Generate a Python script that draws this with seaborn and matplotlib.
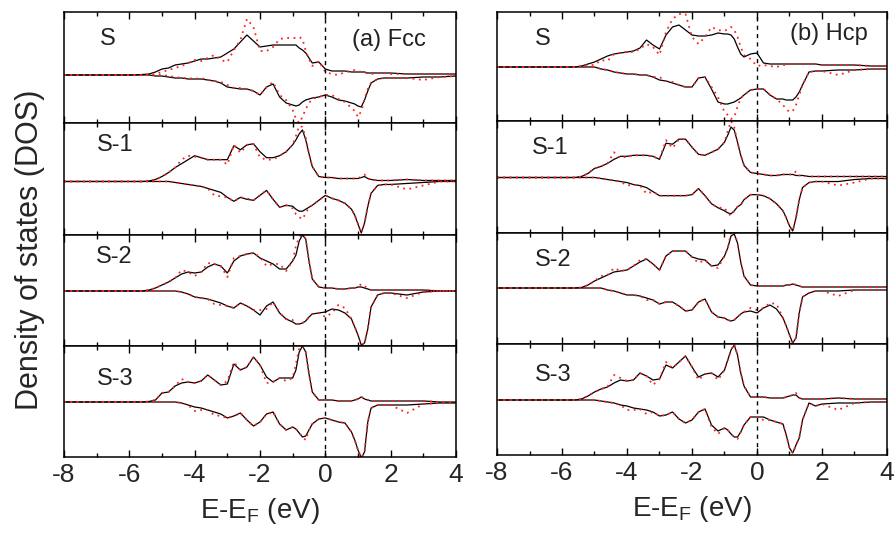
import matplotlib
matplotlib.use("Agg")
import matplotlib.pyplot as plt
from matplotlib.ticker import MultipleLocator
import seaborn as sns

# energy grid (eV, relative to E_F)
E = [-8.0, -7.0, -6.0, -5.6, -5.4, -5.2, -5.0, -4.8, -4.6, -4.4, -4.2, -4.0,
     -3.8, -3.6, -3.4, -3.2, -3.0, -2.8, -2.6, -2.4, -2.2, -2.0, -1.8, -1.6, -1.4, -1.2, -1.0,
     -0.9, -0.8, -0.7, -0.6, -0.5, -0.4, -0.2, 0.0, 0.2, 0.4, 0.6, 0.8,
     0.9, 1.0, 1.1, 1.2, 1.3, 1.4, 1.6, 1.8, 2.0, 2.5, 3.0, 3.5, 4.0]

# ---- (a) Fcc ----  black = solid curve, red = dotted curve (arb. units)
fcc_S_up = [0, 0, 0, 0.5, 1, 3, 6, 7, 10, 11, 12, 14,
            16, 16, 17, 18, 22, 26, 33, 40, 34, 28, 29, 30, 30, 30, 30,
            30, 27, 25, 22, 17, 12, 13, 6, 4, 4, 4, 3,
            3, 3, 3, 3, 2, 2, 2, 2, 2, 1, 1, 1, 1]
fcc_S_dn = [0, 0, 0, 0, 0, -1, -1, -2, -3, -3, -4, -4,
            -4, -5, -6, -8, -12, -13, -14, -14, -16, -20, -12, -9, -22, -28, -30,
            -31, -30, -27, -25, -24, -23, -22, -20, -22, -25, -26, -28,
            -29, -31, -32, -25, -16, -8, -4, -3, -3, -3, -2, -2, -1]
fcc_S_up_r = [0, 0, 0, 0, 0, 1, 3, 5, 7, 9, 12, 15,
              14, 17, 20, 15, 13, 25, 35, 56, 48, 24, 24, 28, 36, 37, 37,
              37, 38, 36, 24, 16, 9, 14, 3, 1, 0, 3, 4,
              5, 4, 3, 2, 2, 1, 2, 2, 1, 1, 1, 1, 0]
fcc_S_dn_r = [0, 0, 0, 0, 0, 0, 0, -1, -2, -3, -3, -4,
              -3, -5, -6, -7, -10, -13, -13, -14, -16, -20, -12, -7, -20, -25, -35,
              -44, -48, -42, -34, -28, -24, -22, -20, -20, -24, -27, -33,
              -36, -42, -36, -24, -14, -8, -4, -3, -3, -3, -5, -2, -1]

fcc_S1_up = [0, 0, 0, 0, 0.5, 2, 5, 9, 14, 18, 22, 26,
             24, 22, 22, 22, 22, 36, 32, 37, 38, 30, 24, 24, 26, 30, 37,
             42, 48, 52, 42, 28, 15, 5, 4, 4, 3, 3, 3,
             3, 3, 4, 5, 3, 2, 1, 1, 1, 2, 1, 1, 1]
fcc_S1_dn = [0, 0, 0, 0, 0, 0, 0, 0, -1, -2, -3, -4,
             -5, -7, -9, -11, -16, -20, -16, -18, -19, -14, -9, -18, -26, -24, -25,
             -28, -30, -30, -28, -26, -24, -19, -14, -17, -19, -22, -28,
             -34, -43, -52, -42, -25, -12, -4, -3, -3, -2, -1, 0, 0]
fcc_S1_up_r = [0, 0, 0, 0, 0.5, 2, 5, 9, 14, 22, 26, 25,
               24, 22, 22, 22, 17, 37, 29, 37, 38, 24, 22, 22, 26, 30, 37,
               46, 56, 55, 44, 28, 15, 5, 4, 4, 3, 3, 3,
               3, 3, 5, 7, 3, 2, 1, 1, 1, 2, 1, 1, 1]
fcc_S1_dn_r = [0, 0, 0, 0, 0, 0, 0, 0, -1, -2, -3, -4,
               -5, -7, -14, -15, -16, -20, -16, -17, -19, -14, -9, -18, -26, -24, -27,
               -33, -36, -38, -32, -26, -24, -19, -14, -17, -19, -22, -28,
               -34, -43, -52, -42, -25, -12, -4, -3, -3, -8, -4, 0, 0]

fcc_S2_up = [0, 0, 0, 0, 1, 3, 6, 9, 13, 17, 19, 18,
             19, 24, 27, 25, 18, 30, 35, 37, 38, 33, 30, 27, 22, 22, 30,
             36, 50, 56, 52, 30, 12, 4, 3, 3, 2, 2, 3,
             3, 4, 4, 3, 2, 1, 1, 1, 1, 1, 1, 0, 0]
fcc_S2_dn = [0, 0, 0, 0, 0, 0, 0, 0, 0, -1, -3, -6,
             -7, -8, -10, -12, -15, -17, -12, -15, -19, -24, -15, -11, -22, -28, -31,
             -33, -33, -32, -30, -26, -23, -22, -21, -18, -19, -22, -28,
             -36, -44, -54, -52, -38, -16, -4, -2, -2, -4, -1, 0, 0]
fcc_S2_up_r = [0, 0, 0, 0, 1, 3, 6, 9, 13, 21, 19, 15,
               19, 28, 27, 25, 14, 33, 35, 37, 38, 34, 25, 27, 27, 20, 30,
               45, 54, 56, 52, 30, 12, 4, 3, 3, 2, 2, 3,
               3, 4, 7, 5, 2, 1, 1, 1, 1, 1, 1, 0, 0]
fcc_S2_dn_r = [0, 0, 0, 0, 0, 0, 0, 0, 0, -1, -3, -6,
               -7, -8, -13, -14, -15, -17, -12, -15, -19, -19, -18, -11, -22, -28, -29,
               -33, -33, -32, -30, -26, -23, -22, -26, -22, -14, -17, -28,
               -36, -44, -54, -52, -38, -16, -4, -2, -2, -7, -1, 0, 0]

fcc_S3_up = [0, 0, 0, 0, 0.5, 2, 9, 10, 16, 19, 20, 19,
             21, 27, 22, 17, 18, 38, 32, 35, 45, 37, 25, 20, 24, 24, 24,
             32, 50, 56, 50, 28, 10, 2, 2, 2, 1, 1, 1,
             2, 3, 5, 3, 2, 1, 1, 1, 1, 1, 1, 0, 0]
fcc_S3_dn = [0, 0, 0, 0, 0, 0, 0, 0, 0, -1, -3, -5,
             -6, -8, -10, -12, -16, -14, -11, -18, -24, -20, -12, -10, -22, -28, -25,
             -27, -31, -35, -34, -28, -22, -17, -16, -18, -20, -21, -30,
             -38, -48, -56, -50, -20, -6, -3, -3, -3, -3, -2, -1, -1]
fcc_S3_up_r = [0, 0, 0, 0, 0.5, 2, 9, 10, 16, 23, 20, 19,
               21, 27, 22, 17, 21, 40, 32, 35, 45, 37, 19, 20, 24, 21, 24,
               38, 54, 56, 50, 28, 10, 2, 2, 2, 1, 1, 1,
               2, 3, 5, 4, 2, 1, 1, 1, 1, 1, 1, 0, 0]
fcc_S3_dn_r = [0, 0, 0, 0, 0, 0, 0, 0, 0, -1, -3, -9,
               -8, -8, -13, -14, -16, -14, -11, -18, -24, -20, -12, -10, -22, -28, -25,
               -27, -31, -35, -38, -28, -22, -17, -16, -18, -20, -21, -30,
               -38, -48, -56, -50, -20, -6, -3, -3, -3, -11, -2, -1, -1]

# ---- (b) Hcp ----
hcp_S_up = [0, 0, 0, 0, 1, 3, 5, 8, 11, 13, 14, 15,
            16, 19, 27, 22, 18, 32, 40, 42, 37, 32, 31, 31, 32, 34, 33,
            33, 32, 28, 20, 13, 10, 13, 14, 4, 3, 3, 3,
            3, 3, 3, 3, 3, 3, 3, 3, 2, 2, 2, 1, 1]
hcp_S_dn = [0, 0, 0, 0, 0, 0, 0, -2, -3, -5, -6, -7,
            -7, -8, -8, -10, -13, -14, -16, -18, -20, -20, -11, -10, -22, -35, -37,
            -37, -36, -35, -33, -31, -28, -23, -22, -22, -28, -32, -32,
            -33, -33, -33, -30, -25, -18, -5, -4, -4, -3, -3, -2, -2]
hcp_S_up_r = [0, 0, 0, 0, 1, 2, 2, 7, 6, 13, 14, 15,
              15, 18, 23, 20, 12, 35, 48, 53, 53, 30, 23, 30, 40, 37, 36,
              38, 40, 37, 30, 20, 12, 8, 1, 2, 1, 0, 2,
              2, 3, 3, 3, 3, 3, 3, 3, 2, 2, 2, 1, 1]
hcp_S_dn_r = [0, 0, 0, 0, 0, 0, 0, -2, -3, -5, -6, -7,
              -7, -8, -8, -10, -10, -14, -15, -18, -20, -20, -11, -10, -20, -30, -45,
              -48, -52, -50, -40, -31, -28, -23, -22, -22, -28, -32, -38,
              -42, -45, -44, -38, -28, -18, -5, -4, -4, -8, -3, -2, -2]

hcp_S1_up = [0, 0, 0, 0, 1, 4, 9, 11, 14, 18, 21, 21,
             22, 22, 22, 21, 18, 34, 33, 38, 38, 30, 23, 22, 25, 28, 35,
             42, 50, 47, 35, 22, 12, 5, 4, 3, 2, 2, 3,
             3, 3, 3, 2, 2, 2, 1, 1, 1, 1, 1, 1, 1]
hcp_S1_dn = [0, 0, 0, 0, 0, 0, 0, -1, -2, -3, -4, -5,
             -7, -8, -10, -14, -18, -18, -18, -18, -18, -17, -11, -18, -26, -30, -33,
             -35, -36, -33, -29, -27, -22, -17, -17, -18, -21, -26, -33,
             -40, -48, -53, -40, -22, -10, -5, -4, -4, -4, -2, -1, -1]
hcp_S1_up_r = [0, 0, 0, 0, 1, 4, 9, 11, 14, 25, 19, 21,
               22, 22, 22, 21, 18, 37, 29, 38, 38, 30, 23, 22, 25, 28, 35,
               46, 56, 50, 35, 22, 12, 5, 4, 3, 2, 2, 3,
               3, 3, 3, 6, 2, 2, 1, 1, 1, 1, 1, 1, 1]
hcp_S1_dn_r = [0, 0, 0, 0, 0, 0, 0, -1, -2, -3, -4, -8,
               -7, -8, -16, -14, -18, -18, -18, -18, -18, -17, -11, -18, -26, -30, -30,
               -35, -38, -33, -29, -27, -22, -17, -17, -18, -21, -26, -33,
               -40, -48, -53, -40, -22, -10, -5, -4, -4, -8, -5, -1, -1]

hcp_S2_up = [0, 0, 0, 0, 0.5, 3, 7, 10, 13, 16, 17, 18,
             22, 26, 29, 24, 18, 32, 37, 37, 37, 31, 29, 28, 22, 23, 32,
             40, 52, 54, 45, 26, 12, 3, 2, 2, 2, 2, 2,
             3, 3, 4, 3, 2, 1, 1, 1, 1, 1, 1, 1, 1]
hcp_S2_dn = [0, 0, 0, 0, 0, 0, 0, 0, -2, -3, -5, -7,
             -7, -8, -10, -12, -16, -14, -14, -18, -23, -22, -14, -11, -24, -29, -30,
             -32, -33, -32, -29, -26, -24, -23, -25, -20, -17, -21, -30,
             -38, -47, -55, -50, -25, -9, -5, -3, -3, -3, -2, -2, -2]
hcp_S2_up_r = [0, 0, 0, 0, 0.5, 3, 7, 12, 13, 20, 17, 18,
               22, 28, 29, 24, 18, 32, 37, 37, 37, 31, 25, 28, 22, 20, 32,
               40, 55, 57, 45, 26, 12, 3, 2, 2, 2, 2, 2,
               3, 3, 5, 3, 2, 1, 1, 1, 1, 1, 1, 1, 1]
hcp_S2_dn_r = [0, 0, 0, 0, 0, 0, 0, 0, -2, -3, -5, -7,
               -7, -8, -12, -12, -16, -14, -14, -18, -23, -22, -14, -11, -24, -29, -30,
               -32, -33, -32, -29, -26, -24, -20, -22, -20, -15, -16, -30,
               -38, -47, -55, -50, -25, -9, -5, -3, -3, -8, -2, -2, -2]

hcp_S3_up = [0, 0, 0, 0, 1, 4, 8, 11, 13, 17, 20, 19,
             20, 27, 24, 20, 21, 35, 32, 38, 44, 33, 23, 26, 27, 23, 30,
             40, 50, 55, 45, 27, 14, 3, 3, 3, 2, 2, 2,
             3, 4, 5, 5, 2, 1, 1, 1, 1, 2, 1, 1, 1]
hcp_S3_dn = [0, 0, 0, 0, 0, 0, 0, -1, -2, -3, -5, -6,
             -8, -9, -10, -12, -16, -15, -12, -19, -23, -20, -12, -9, -25, -31, -28,
             -30, -34, -37, -37, -32, -25, -17, -17, -17, -20, -22, -24,
             -35, -48, -53, -45, -38, -20, -3, -6, -4, -3, -3, -2, -2]
hcp_S3_up_r = [0, 0, 0, 0, 1, 4, 8, 11, 13, 25, 22, 19,
               20, 27, 24, 15, 21, 38, 32, 38, 44, 33, 20, 26, 27, 20, 30,
               40, 50, 56, 45, 27, 14, 3, 3, 3, 2, 2, 2,
               3, 4, 5, 7, 2, 1, 1, 1, 1, 2, 1, 1, 1]
hcp_S3_dn_r = [0, 0, 0, 0, 0, 0, 0, -1, -2, -3, -5, -10,
               -10, -9, -14, -12, -16, -15, -12, -19, -23, -20, -12, -9, -27, -34, -28,
               -30, -34, -37, -39, -32, -25, -17, -17, -20, -20, -22, -24,
               -35, -48, -53, -45, -38, -20, -3, -6, -4, -10, -3, -2, -2]

panel_names = ["S", "S-1", "S-2", "S-3"]
fcc_data = [(fcc_S_up, fcc_S_dn, fcc_S_up_r, fcc_S_dn_r),
            (fcc_S1_up, fcc_S1_dn, fcc_S1_up_r, fcc_S1_dn_r),
            (fcc_S2_up, fcc_S2_dn, fcc_S2_up_r, fcc_S2_dn_r),
            (fcc_S3_up, fcc_S3_dn, fcc_S3_up_r, fcc_S3_dn_r)]
hcp_data = [(hcp_S_up, hcp_S_dn, hcp_S_up_r, hcp_S_dn_r),
            (hcp_S1_up, hcp_S1_dn, hcp_S1_up_r, hcp_S1_dn_r),
            (hcp_S2_up, hcp_S2_dn, hcp_S2_up_r, hcp_S2_dn_r),
            (hcp_S3_up, hcp_S3_dn, hcp_S3_up_r, hcp_S3_dn_r)]

# layout (pixels of the 895x534 figure)
W, H = 895, 534
columns = [
    dict(data=fcc_data, x=(64, 456), rows=[12, 123, 235, 346, 457],
         ylims=[(-48, 63), (-54, 59), (-55, 56), (-55, 56)],
         lab_x=[0.092, 0.084, 0.082, 0.084], lab_y=[0.76, 0.80, 0.80, 0.70],
         title="(a) Fcc", title_xy=(0.735, 0.75)),
    dict(data=hcp_data, x=(497, 887), rows=[12, 121, 233, 344, 455],
         ylims=[(-54, 55), (-55, 56), (-56, 55), (-55, 56)],
         lab_x=[0.097, 0.09, 0.098, 0.098], lab_y=[0.75, 0.755, 0.755, 0.725],
         title="(b) Hcp", title_xy=(0.751, 0.80)),
]

sns.set_style("ticks")
plt.rcParams["font.family"] = ["Liberation Sans", "DejaVu Sans"]
plt.rcParams["mathtext.fontset"] = "custom"
plt.rcParams["mathtext.rm"] = "Liberation Sans"
plt.rcParams["mathtext.it"] = "Liberation Sans"
plt.rcParams["axes.unicode_minus"] = False

fig = plt.figure(figsize=(W / 100, H / 100), dpi=100)

for col in columns:
    x0, x1 = col["x"]
    for i in range(4):
        y0, y1 = col["rows"][i], col["rows"][i + 1]
        ax = fig.add_axes([x0 / W, 1 - y1 / H, (x1 - x0) / W, (y1 - y0) / H])
        up, dn, up_r, dn_r = col["data"][i]

        sns.lineplot(x=E, y=up, ax=ax, color="black", lw=0.9)
        sns.lineplot(x=E, y=dn, ax=ax, color="black", lw=0.9)
        sns.lineplot(x=E, y=up_r, ax=ax, color="#ff2020", lw=1.3, linestyle=(0, (1, 2.5)))
        sns.lineplot(x=E, y=dn_r, ax=ax, color="#ff2020", lw=1.3, linestyle=(0, (1, 2.5)))
        ax.axvline(0, color="black", lw=1, linestyle=(0, (3, 3)))

        ax.set_xlim(-8, 4)
        ax.set_ylim(col["ylims"][i])
        ax.set_yticks([])
        ax.set_ylabel("")
        ax.xaxis.set_major_locator(MultipleLocator(2))
        ax.xaxis.set_minor_locator(MultipleLocator(1))
        ax.tick_params(axis="x", which="both", direction="in", top=True, bottom=True,
                       color="black", width=1, labelsize=19, pad=4)
        ax.tick_params(axis="x", which="major", length=5)
        ax.tick_params(axis="x", which="minor", length=3)
        for sp in ax.spines.values():
            sp.set_color("black")
            sp.set_linewidth(1.1)

        ax.text(col["lab_x"][i], col["lab_y"][i], panel_names[i], transform=ax.transAxes,
                ha="left", va="center", fontsize=17, color="#222222")
        if i == 0:
            ax.text(col["title_xy"][0], col["title_xy"][1], col["title"], transform=ax.transAxes,
                    ha="left", va="center", fontsize=17, color="#222222")
        if i < 3:
            ax.tick_params(axis="x", labelbottom=False)
        else:
            ax.set_xlabel("E-E$_\\mathrm{F}$ (eV)", fontsize=20, labelpad=7)

fig.text(30 / W, 1 - 250 / H, "Density of states (DOS)", rotation=90,
         ha="center", va="center", fontsize=22)

fig.savefig("out.png", dpi=100)
